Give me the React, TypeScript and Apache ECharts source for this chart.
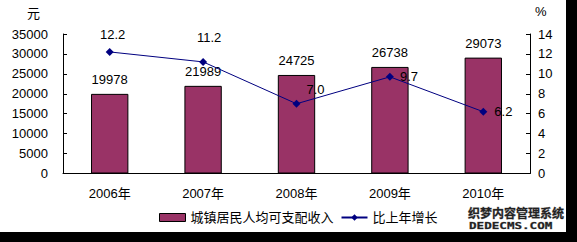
import React, { useEffect, useRef } from "react";
import * as echarts from "echarts";

const categories = ["2006年", "2007年", "2008年", "2009年", "2010年"];
const incomeValues = [19978, 21989, 24725, 26738, 29073];
const growthValues = [12.2, 11.2, 7.0, 9.7, 6.2];
const incomeName = "城镇居民人均可支配收入";
const growthName = "比上年增长";

const FONT = "'Liberation Sans', 'Noto Sans CJK SC', sans-serif";

export default function App() {
  const ref = useRef<HTMLDivElement>(null);
  useEffect(() => {
    const chart = echarts.init(ref.current!, null, { renderer: "svg" });
    const growthLabels = [
      { position: "top", distance: 7, offset: [3, 0] },
      { position: "top", distance: 14, offset: [6, 0] },
      { position: "top", distance: 4, offset: [19, 0] },
      { position: "right", distance: 6, offset: [0, 0] },
      { position: "right", distance: 7, offset: [0, 0] },
    ];
    chart.setOption({
      animation: false,
      backgroundColor: "#ffffff",
      textStyle: { fontFamily: FONT },
      grid: { left: 63, right: 47, top: 34, bottom: 68.5 },
      legend: {
        left: 154,
        top: 206,
        itemWidth: 26,
        itemHeight: 8,
        itemGap: 7,
        textStyle: { fontSize: 13, color: "#000", fontFamily: FONT },
        data: [
          { name: incomeName, icon: "rect", itemStyle: { borderColor: "#000", borderWidth: 1 } },
          { name: growthName },
        ],
      },
      xAxis: {
        type: "category",
        data: categories,
        axisLine: { lineStyle: { color: "#000", width: 1 } },
        axisTick: { inside: true, length: 4, lineStyle: { color: "#000" } },
        axisLabel: { color: "#000", fontSize: 13, margin: 13 },
      },
      yAxis: [
        {
          type: "value",
          min: 0,
          max: 35000,
          interval: 5000,
          axisLine: { show: true, lineStyle: { color: "#000", width: 1 } },
          axisTick: { show: true, inside: true, length: 4, lineStyle: { color: "#000" } },
          axisLabel: { color: "#000", fontSize: 13, margin: 15, formatter: (v: number) => String(v) },
          splitLine: { show: false },
        },
        {
          type: "value",
          min: 0,
          max: 14,
          interval: 2,
          position: "right",
          axisLine: { show: true, lineStyle: { color: "#000", width: 1 } },
          axisTick: { show: true, inside: true, length: 4, lineStyle: { color: "#000" } },
          axisLabel: { color: "#000", fontSize: 13, margin: 8 },
          splitLine: { show: false },
        },
      ],
      series: [
        {
          name: incomeName,
          type: "bar",
          data: incomeValues,
          barWidth: "40%",
          itemStyle: { color: "#993366", borderColor: "#000", borderWidth: 1 },
          label: { show: true, position: "top", distance: 8, color: "#000", fontSize: 13 },
        },
        {
          name: growthName,
          type: "line",
          yAxisIndex: 1,
          data: growthValues.map((v, i) => ({
            value: v,
            label: growthLabels[i],
          })),
          symbol: "diamond",
          symbolSize: 8,
          lineStyle: { color: "#000080", width: 1 },
          itemStyle: { color: "#000080" },
          label: {
            show: true,
            color: "#000",
            fontSize: 13,
            formatter: (p: any) => Number(p.value).toFixed(1),
          },
        },
      ],
      graphic: [
        { type: "text", left: 27, top: 6, style: { text: "元", fill: "#000", font: "13px 'Noto Sans CJK SC'" } },
        { type: "text", left: 535, top: 5, style: { text: "%", fill: "#000", font: "13px 'Liberation Sans'" } },
        { type: "rect", shape: { x: 566, y: 0, width: 11, height: 242 }, style: { fill: "#000" } },
        { type: "rect", shape: { x: 0, y: 232, width: 577, height: 10 }, style: { fill: "#000" } },
        {
          type: "text",
          x: 468,
          y: 206,
          style: {
            text: "织梦内容管理系统",
            font: "bold 12px 'Noto Sans CJK SC'",
            fill: "#222",
            stroke: "#888",
            lineWidth: 0.5,
          },
        },
        {
          type: "text",
          x: 469,
          y: 222,
          scaleX: 1.4,
          style: {
            text: "DEDECMS.COM",
            font: "bold 9px 'DejaVu Sans Mono'",
            fill: "#222",
            stroke: "#888",
            lineWidth: 0.4,
          },
        },
      ],
    });
    return () => chart.dispose();
  }, []);
  return (
    <div style={{ position: "fixed", left: 0, top: 0, width: 577, height: 242 }}>
      <div ref={ref} style={{ width: 577, height: 242 }} />
    </div>
  );
}
